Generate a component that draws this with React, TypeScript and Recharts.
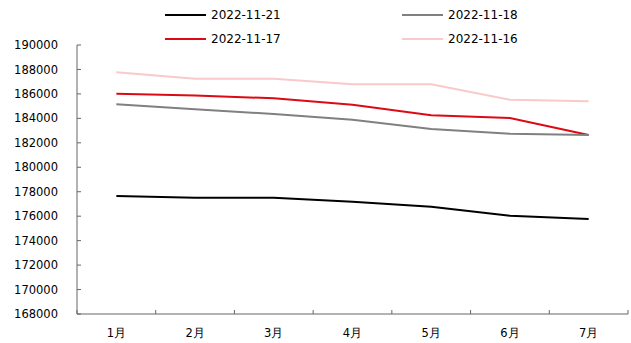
import React from "react";
import { LineChart, Line, XAxis, YAxis } from "recharts";

const months = ["1月", "2月", "3月", "4月", "5月", "6月", "7月"];
const s1121 = [177650, 177510, 177510, 177180, 176770, 176040, 175770];
const s1118 = [185150, 184740, 184360, 183890, 183130, 182750, 182640];
const s1117 = [186010, 185880, 185640, 185120, 184250, 184030, 182640];
const s1116 = [187770, 187240, 187240, 186790, 186790, 185520, 185400];
const yTicks = [168000, 170000, 172000, 174000, 176000, 178000, 180000, 182000, 184000, 186000, 188000, 190000];

const series = [
  { key: "d1121", name: "2022-11-21", color: "#000000" },
  { key: "d1118", name: "2022-11-18", color: "#808080" },
  { key: "d1117", name: "2022-11-17", color: "#dc0a14" },
  { key: "d1116", name: "2022-11-16", color: "#f8caca" },
];

const data = months.map((m, i) => ({
  month: m,
  d1121: s1121[i],
  d1118: s1118[i],
  d1117: s1117[i],
  d1116: s1116[i],
}));

const font = "'DejaVu Sans', sans-serif";
const axisColor = "#666";
const yAxisW = 77;
const plotW = 631 - yAxisW - 3;
const halfBand = plotW / months.length / 2;

// category label plus the inward tick marks at band edges (Excel style)
function MonthTick(props: any) {
  const { x, y, payload, index } = props;
  const last = index === months.length - 1;
  return (
    <g>
      <line x1={x - halfBand} x2={x - halfBand} y1={y} y2={y - 4} stroke={axisColor} />
      {last && <line x1={x + halfBand} x2={x + halfBand} y1={y} y2={y - 4} stroke={axisColor} />}
      <text x={x} y={y + 23} textAnchor="middle" fontSize={11.5} fontFamily={font} fill="#000">
        {payload.value}
      </text>
    </g>
  );
}

function LegendBox() {
  return (
    <div style={{ position: "absolute", left: 0, top: 0, width: 631, height: 45, fontFamily: font, fontSize: 12, color: "#000" }}>
      {series.map((s, i) => (
        <div
          key={s.key}
          style={{
            position: "absolute",
            left: i % 2 === 0 ? 165 : 402,
            top: i < 2 ? 6 : 30,
            display: "flex",
            alignItems: "center",
            height: 18,
          }}
        >
          <span style={{ display: "inline-block", width: 41, height: 2, background: s.color, marginRight: 5 }} />
          <span>{s.name}</span>
        </div>
      ))}
    </div>
  );
}

export default function App() {
  return (
    <div style={{ position: "absolute", left: 0, top: 0, width: 631, height: 343, background: "#fff" }}>
      <LineChart width={631} height={343} data={data} margin={{ top: 45, right: 3, bottom: 0, left: 0 }}>
        <XAxis
          dataKey="month"
          height={29}
          interval={0}
          padding={{ left: halfBand, right: halfBand }}
          tickLine={false}
          tickSize={0}
          tickMargin={0}
          axisLine={{ stroke: axisColor }}
          tick={<MonthTick />}
        />
        <YAxis
          domain={[168000, 190000]}
          ticks={yTicks}
          width={yAxisW}
          interval={0}
          tickSize={-4}
          tickMargin={23}
          tickLine={{ stroke: axisColor }}
          axisLine={{ stroke: axisColor }}
          tick={{ fontSize: 11.5, fill: "#000", fontFamily: font }}
        />
        {series.slice().reverse().map((s) => (
          <Line
            key={s.key}
            dataKey={s.key}
            name={s.name}
            type="linear"
            stroke={s.color}
            strokeWidth={2}
            dot={false}
            isAnimationActive={false}
          />
        ))}
      </LineChart>
      <LegendBox />
    </div>
  );
}
